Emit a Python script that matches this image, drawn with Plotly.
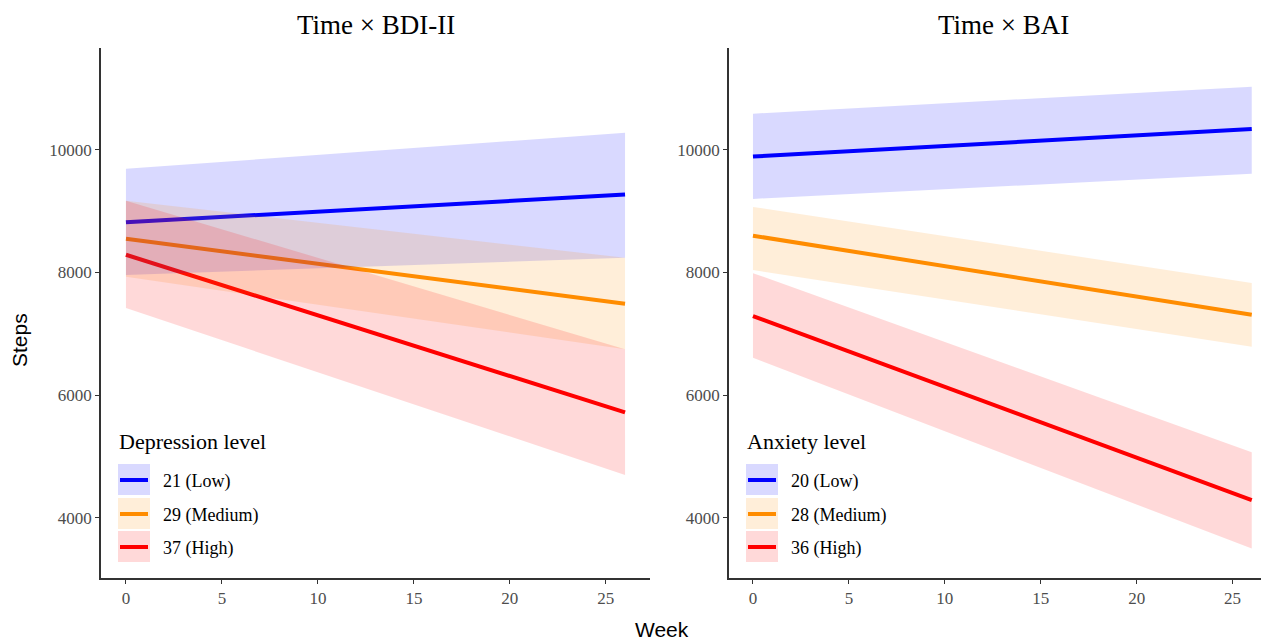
import plotly.graph_objects as go

# page body has an 8px margin; lay out in window pixels and shift
OFF = 8
W, H = 1269 - OFF, 641 - OFF

weeks = [0, 26]

# Left panel: Time x BDI-II
bdi_labels = ["21 (Low)", "29 (Medium)", "37 (High)"]
bdi_fit = [[8820, 9270], [8550, 7490], [8290, 5720]]
bdi_lo = [[7960, 8240], [7930, 6750], [7420, 4700]]
bdi_hi = [[9690, 10280], [9170, 8240], [9170, 6750]]

# Right panel: Time x BAI
bai_labels = ["20 (Low)", "28 (Medium)", "36 (High)"]
bai_fit = [[9890, 10340], [8600, 7310], [7290, 4290]]
bai_lo = [[9200, 9610], [8040, 6790], [6610, 3500]]
bai_hi = [[10590, 11030], [9070, 7830], [7990, 5070]]

y_ticks = [4000, 6000, 8000, 10000]
x_ticks = [0, 5, 10, 15, 20, 25]

colors = ["#0000FF", "#FF8C00", "#FF0000"]
fills = ["rgba(0,0,255,0.15)", "rgba(255,140,0,0.15)", "rgba(255,0,0,0.15)"]

SERIF = "Liberation Serif"
SANS = "Liberation Sans"

def px(x):
    return (x - OFF) / W

def py(y):
    return 1 - (y - OFF) / H

fig = go.Figure()

panels = [("x", "y", bdi_fit, bdi_lo, bdi_hi), ("x2", "y2", bai_fit, bai_lo, bai_hi)]
for xa, ya, fit, lo, hi in panels:
    for i in range(3):
        fig.add_trace(go.Scatter(x=weeks, y=fit[i], mode="lines", xaxis=xa, yaxis=ya,
                                 line=dict(color=colors[i], width=4), showlegend=False,
                                 hoverinfo="skip"))
    for i in range(3):
        fig.add_trace(go.Scatter(x=weeks + weeks[::-1], y=lo[i] + hi[i][::-1], mode="lines",
                                 xaxis=xa, yaxis=ya, fill="toself", fillcolor=fills[i],
                                 line=dict(width=0, color="rgba(0,0,0,0)"), showlegend=False,
                                 hoverinfo="skip"))

axis_common = dict(showgrid=False, zeroline=False, showline=True, linecolor="#333333",
                   linewidth=1.6, ticks="outside", ticklen=4, tickcolor="#333333", tickwidth=1.2,
                   tickfont=dict(family=SERIF, size=17, color="#4D4D4D"))
ydom = [py(578), py(48)]
ytext = [str(v) for v in y_ticks]
xtext = [str(v) for v in x_ticks]
fig.update_layout(
    width=W, height=H, margin=dict(l=0, r=0, t=0, b=0),
    paper_bgcolor="white", plot_bgcolor="white",
    xaxis=dict(domain=[px(101), px(650)], range=[-1.3, 27.3], tickvals=x_ticks, ticktext=xtext,
               anchor="y", **axis_common),
    yaxis=dict(domain=ydom, range=[3020, 11660], tickvals=y_ticks, ticktext=ytext,
               anchor="x", **axis_common),
    xaxis2=dict(domain=[px(729), 1.0], range=[-1.25, 26.9], tickvals=x_ticks, ticktext=xtext,
                anchor="y2", **axis_common),
    yaxis2=dict(domain=ydom, range=[3020, 11660], tickvals=y_ticks, ticktext=ytext,
                anchor="x2", **axis_common),
    showlegend=False,
)

annotations = [
    dict(text="Time × BDI-II", x=px(376), y=py(25), font=dict(family=SERIF, size=27, color="black")),
    dict(text="Time × BAI", x=px(1003), y=py(25), font=dict(family=SERIF, size=27, color="black")),
    dict(text="Week", x=px(662), y=py(629), font=dict(family=SANS, size=21, color="black")),
    dict(text="Steps", x=px(19), y=py(340), textangle=-90, font=dict(family=SANS, size=21, color="black")),
]
for a in annotations:
    a.update(xref="paper", yref="paper", showarrow=False, xanchor="center", yanchor="middle")

shapes = []
legends = [(118, "Depression level", bdi_labels), (746, "Anxiety level", bai_labels)]
row_tops = [464, 498, 531]
for x0, title, labels in legends:
    annotations.append(dict(text=title, x=px(x0 - 1), y=py(441), xref="paper", yref="paper",
                            showarrow=False, xanchor="left", yanchor="middle",
                            font=dict(family=SERIF, size=22, color="black")))
    for i, lab in enumerate(labels):
        t = row_tops[i]
        shapes.append(dict(type="rect", xref="paper", yref="paper", x0=px(x0), x1=px(x0 + 32),
                           y0=py(t + 31), y1=py(t), fillcolor=fills[i], line=dict(width=0),
                           layer="below"))
        shapes.append(dict(type="line", xref="paper", yref="paper", x0=px(x0 + 2), x1=px(x0 + 30),
                           y0=py(t + 16), y1=py(t + 16), line=dict(color=colors[i], width=4)))
        annotations.append(dict(text=lab, x=px(x0 + 43), y=py(t + 17), xref="paper", yref="paper",
                                showarrow=False, xanchor="left", yanchor="middle",
                                font=dict(family=SERIF, size=18, color="black")))

fig.update_layout(annotations=annotations, shapes=shapes)
fig.write_html("out.html")
